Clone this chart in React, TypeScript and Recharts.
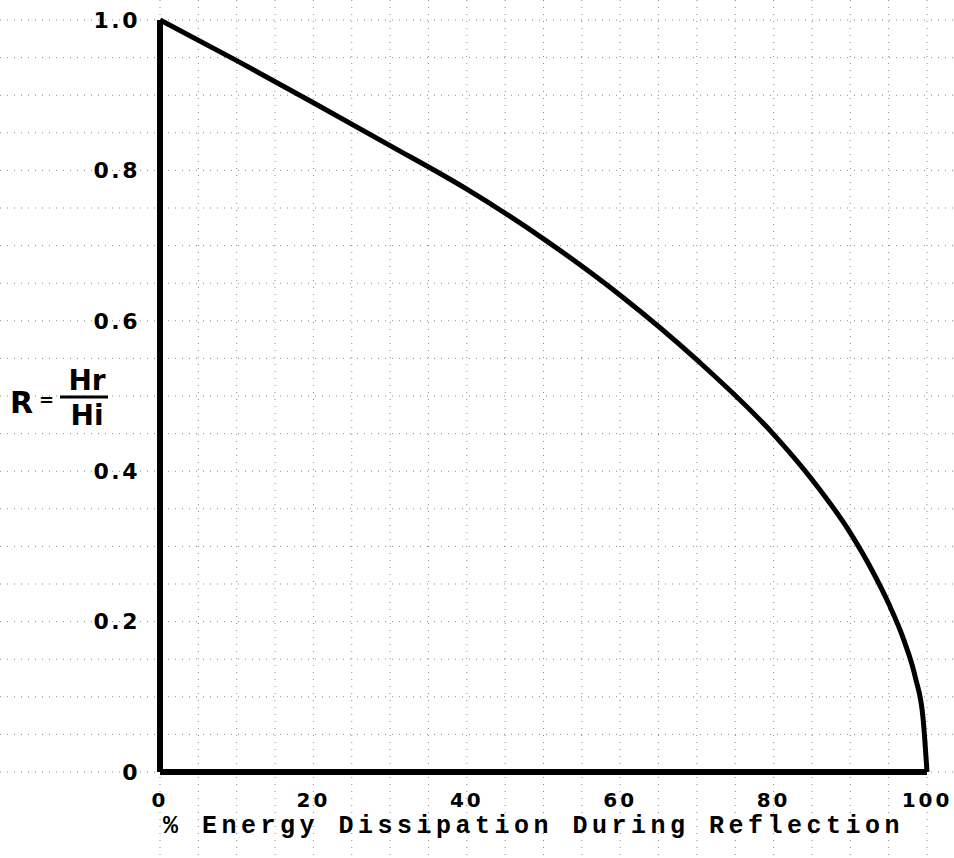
import React from 'react';
import { LineChart, Line, XAxis, YAxis, CartesianGrid } from 'recharts';

// % energy dissipated during reflection (x) and reflection coefficient R = Hr/Hi (y)
const energyPct = [0, 10, 20, 30, 40, 50, 60, 70, 80, 85, 90, 93, 95, 97, 98.5, 99.5, 100];
const reflectionR = [1.0, 0.946, 0.89, 0.833, 0.775, 0.709, 0.634, 0.548, 0.449, 0.389, 0.318, 0.265, 0.224, 0.175, 0.125, 0.07, 0.0];

const xTicks = [0, 5, 10, 15, 20, 25, 30, 35, 40, 45, 50, 55, 60, 65, 70, 75, 80, 85, 90, 95, 100];
const xLabelTicks = [0, 20, 40, 60, 80, 100];
const yTicks = [0, 0.05, 0.1, 0.15, 0.2, 0.25, 0.3, 0.35, 0.4, 0.45, 0.5, 0.55, 0.6, 0.65, 0.7, 0.75, 0.8, 0.85, 0.9, 0.95, 1.0];
const yLabelTicks = [0, 0.2, 0.4, 0.6, 0.8, 1.0];

const xTitle = '% Energy Dissipation During Reflection';

const data = energyPct.map((e, i) => ({ e, r: reflectionR[i] }));

const handFont = '"DejaVu Sans", sans-serif';

const XTitle = (props: any) => {
  const vb = props.viewBox || { x: 160, y: 772 };
  return (
    <text
      x={vb.x + 3}
      y={vb.y + 61}
      fontFamily='"Liberation Mono", "Courier New", monospace'
      fontWeight="bold"
      fontSize={25}
      letterSpacing={4.5}
      fill="#000"
    >
      {xTitle}
    </text>
  );
};

const YTitle = () => (
  <g fill="#000" fontFamily={handFont} fontWeight="bold">
    <text x={10} y={413} fontSize={30}>R</text>
    <text x={39} y={406} fontSize={18}>=</text>
    <line x1={60} x2={108} y1={397} y2={397} stroke="#000" strokeWidth={3} />
    <text x={87} y={390} fontSize={28} textAnchor="middle">Hr</text>
    <text x={87} y={425} fontSize={28} textAnchor="middle">Hi</text>
  </g>
);

export default function App() {
  return (
    <div style={{ position: 'absolute', left: 0, top: 0, background: '#fff' }}>
      <LineChart width={954} height={858} data={data} margin={{ top: 20, right: 27, left: 0, bottom: 0 }}>
        <CartesianGrid
          x={0}
          y={0}
          width={954}
          height={858}
          stroke="#8a8a8a"
          strokeDasharray="1 6"
          strokeWidth={1}
        />
        <XAxis
          dataKey="e"
          type="number"
          domain={[0, 100]}
          ticks={xTicks}
          interval={0}
          tickFormatter={(v: number) => (xLabelTicks.includes(v) ? String(v) : '')}
          tickLine={false}
          tickSize={0}
          tickMargin={21}
          height={86}
          axisLine={{ stroke: '#000', strokeWidth: 6 }}
          tick={{ fill: '#000', fontFamily: handFont, fontWeight: 'bold', fontSize: 20, letterSpacing: 3 }}
          label={{ content: XTitle }}
        />
        <YAxis
          dataKey="r"
          type="number"
          domain={[0, 1]}
          ticks={yTicks}
          interval={0}
          tickFormatter={(v: number) =>
            yLabelTicks.some((t) => Math.abs(t - v) < 1e-9) ? (v === 0 ? '0' : v.toFixed(1)) : ''
          }
          tickLine={false}
          tickSize={0}
          tickMargin={20}
          width={160}
          axisLine={{ stroke: '#000', strokeWidth: 6 }}
          tick={{ fill: '#000', fontFamily: handFont, fontWeight: 'bold', fontSize: 22, letterSpacing: 2.5 }}
          label={{ content: YTitle }}
        />
        <Line
          type="monotone"
          dataKey="r"
          stroke="#000"
          strokeWidth={5}
          dot={false}
          activeDot={false}
          isAnimationActive={false}
        />
      </LineChart>
    </div>
  );
}
